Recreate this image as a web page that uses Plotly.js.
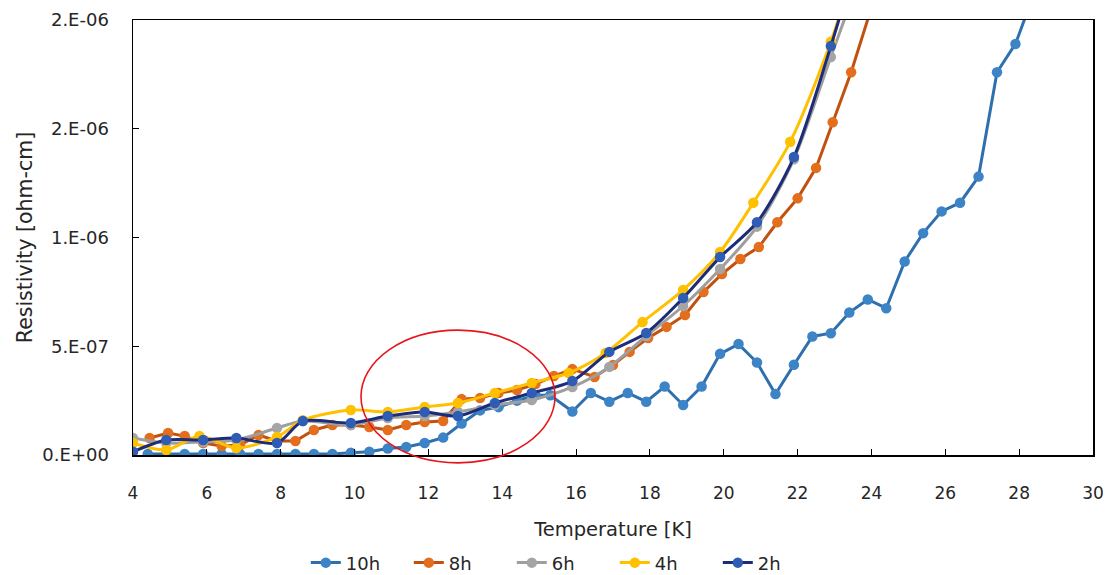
<!DOCTYPE html>
<html>
<head>
<meta charset="utf-8">
<script src="https://cdn.plot.ly/plotly-3.0.1.min.js"></script>
<style>html,body{margin:0;padding:0;background:#fff;}#chart{width:1107px;height:575px;}</style>
</head>
<body>
<div id="chart"></div>
<script>
// Temperature [K] and resistivity [ohm-cm] for each anneal time
const t10h = [4.4,4.9,5.4,5.9,6.4,6.9,7.4,7.9,8.4,8.9,9.4,9.9,10.4,10.9,11.4,11.9,12.4,12.9,13.4,13.9,14.4,14.9,15.3,15.9,16.4,16.9,17.4,17.9,18.4,18.9,19.4,19.9,20.4,20.9,21.4,21.9,22.4,22.9,23.4,23.9,24.4,24.9,25.4,25.9,26.4,26.9,27.4,27.9,28.4];
const r10h = [0.05e-7,0.05e-7,0.05e-7,0.05e-7,0.05e-7,0.05e-7,0.05e-7,0.05e-7,0.05e-7,0.05e-7,0.05e-7,0.1e-7,0.15e-7,0.3e-7,0.37e-7,0.55e-7,0.8e-7,1.45e-7,2.05e-7,2.2e-7,2.5e-7,2.75e-7,2.75e-7,2.0e-7,2.85e-7,2.45e-7,2.85e-7,2.45e-7,3.15e-7,2.3e-7,3.15e-7,4.65e-7,5.1e-7,4.25e-7,2.8e-7,4.15e-7,5.45e-7,5.6e-7,6.55e-7,7.15e-7,6.75e-7,8.9e-7,10.2e-7,11.2e-7,11.6e-7,12.8e-7,17.6e-7,18.9e-7,21.2e-7];

const t8h = [4.45,4.95,5.4,5.9,6.4,6.9,7.4,7.9,8.4,8.9,9.4,9.9,10.4,10.9,11.4,11.9,12.4,12.9,13.4,13.9,14.4,14.9,15.4,15.9,16.5,17.0,17.45,17.95,18.45,18.95,19.45,19.95,20.45,20.95,21.45,22.0,22.5,22.95,23.45,23.95];
const r8h = [0.78e-7,1.01e-7,0.87e-7,0.55e-7,0.41e-7,0.46e-7,0.92e-7,0.64e-7,0.64e-7,1.15e-7,1.38e-7,1.38e-7,1.29e-7,1.15e-7,1.38e-7,1.52e-7,1.56e-7,2.57e-7,2.62e-7,2.85e-7,2.99e-7,3.26e-7,3.63e-7,3.95e-7,3.59e-7,4.14e-7,4.74e-7,5.38e-7,5.89e-7,6.44e-7,7.49e-7,8.32e-7,9.01e-7,9.56e-7,10.7e-7,11.8e-7,13.2e-7,15.3e-7,17.6e-7,20.3e-7];

const t6h = [4.0,4.9,5.9,6.8,7.9,8.6,9.9,10.9,11.9,12.8,13.8,14.8,15.9,16.9,17.9,18.9,19.9,20.9,21.9,22.9,23.9];
const r6h = [0.78e-7,0.55e-7,0.6e-7,0.69e-7,1.24e-7,1.56e-7,1.38e-7,1.70e-7,1.79e-7,1.98e-7,2.30e-7,2.53e-7,3.13e-7,4.05e-7,5.47e-7,6.85e-7,8.55e-7,10.5e-7,13.6e-7,18.3e-7,23.0e-7];

const t4h = [4.0,4.9,5.8,6.8,7.9,8.6,9.9,10.9,11.9,12.8,13.8,14.8,15.8,16.8,17.8,18.9,19.9,20.8,21.8,22.9,23.9];
const r4h = [0.55e-7,0.23e-7,0.87e-7,0.32e-7,0.83e-7,1.6e-7,2.07e-7,1.98e-7,2.21e-7,2.39e-7,2.85e-7,3.31e-7,3.77e-7,4.69e-7,6.11e-7,7.59e-7,9.33e-7,11.6e-7,14.4e-7,19.0e-7,24.5e-7];

const t2h = [4.0,4.9,5.9,6.8,7.9,8.6,9.9,10.9,11.9,12.8,13.8,14.8,15.9,16.9,17.9,18.9,19.9,20.9,21.9,22.9,23.9];
const r2h = [0.15e-7,0.69e-7,0.69e-7,0.78e-7,0.55e-7,1.56e-7,1.47e-7,1.79e-7,1.98e-7,1.79e-7,2.39e-7,2.85e-7,3.40e-7,4.74e-7,5.61e-7,7.22e-7,9.10e-7,10.7e-7,13.7e-7,18.8e-7,24.5e-7];

const seriesNames = ["10h","8h","6h","4h","2h"];
const xTickVals = [4,6,8,10,12,14,16,18,20,22,24,26,28,30];
const yTickVals = [0,5e-7,1e-6,1.5e-6,2e-6];
const yTickText = ["0.E+00","5.E-07","1.E-06","2.E-06","2.E-06"];

const FONT = "'DejaVu Sans', sans-serif";
const TXT = "#262626";

function tr(x, y, name, lineColor, markerColor, shape) {
  return {
    x: x, y: y, name: name, type: "scatter", mode: "lines+markers",
    line: {color: lineColor, width: 3, shape: shape, smoothing: 0.8},
    marker: {color: markerColor, size: 10.5, line: {width: 0}}
  };
}

const data = [
  tr(t10h, r10h, seriesNames[0], "#2E6FAE", "#3C84C6", "linear"),
  tr(t8h, r8h, seriesNames[1], "#C0510F", "#E36F1E", "linear"),
  tr(t6h, r6h, seriesNames[2], "#9E9E9E", "#A5A5A5", "spline"),
  tr(t4h, r4h, seriesNames[3], "#FFC000", "#FFC000", "spline"),
  tr(t2h, r2h, seriesNames[4], "#1D2C78", "#2F5DB5", "spline")
];

const layout = {
  width: 1107, height: 575,
  margin: {l: 133, r: 14, t: 20, b: 120},
  paper_bgcolor: "#ffffff", plot_bgcolor: "#ffffff",
  font: {family: FONT, size: 18, color: TXT},
  showlegend: true,
  legend: {orientation: "h", x: 0.18, xanchor: "left", yref: "container", y: 0.021, yanchor: "middle",
           font: {family: FONT, size: 18, color: TXT}, traceorder: "normal",
           entrywidth: 58, entrywidthmode: "pixels"},
  xaxis: {
    range: [4, 30], tickvals: xTickVals, ticktext: xTickVals.map(String),
    showgrid: false, zeroline: false, showline: true, linecolor: "#000", linewidth: 1.5,
    mirror: true, ticks: "inside", ticklen: 6, tickcolor: "#000",
    ticklabelstandoff: 22, automargin: false,
    tickfont: {family: FONT, size: 17, color: TXT},
    title: {text: "Temperature [K]", font: {family: FONT, size: 19.5, color: TXT}, standoff: 20}
  },
  yaxis: {
    range: [0, 2e-6], tickvals: yTickVals, ticktext: yTickText,
    showgrid: false, zeroline: false, showline: true, linecolor: "#000", linewidth: 1.5,
    mirror: true, ticks: "inside", ticklen: 6, tickcolor: "#000",
    ticklabelstandoff: 19, automargin: false,
    tickfont: {family: FONT, size: 18, color: TXT},
    title: {text: "Resistivity [ohm-cm]", font: {family: FONT, size: 20.5, color: TXT}, standoff: 4}
  },
  shapes: [{
    type: "circle", xref: "paper", yref: "paper",
    x0: 0.2375, x1: 0.4396, y0: -0.018, y1: 0.287,
    line: {color: "#E8141B", width: 1.6}, layer: "above"
  }]
};

Plotly.newPlot("chart", data, layout, {displayModeBar: false, staticPlot: true});
</script>
</body>
</html>
